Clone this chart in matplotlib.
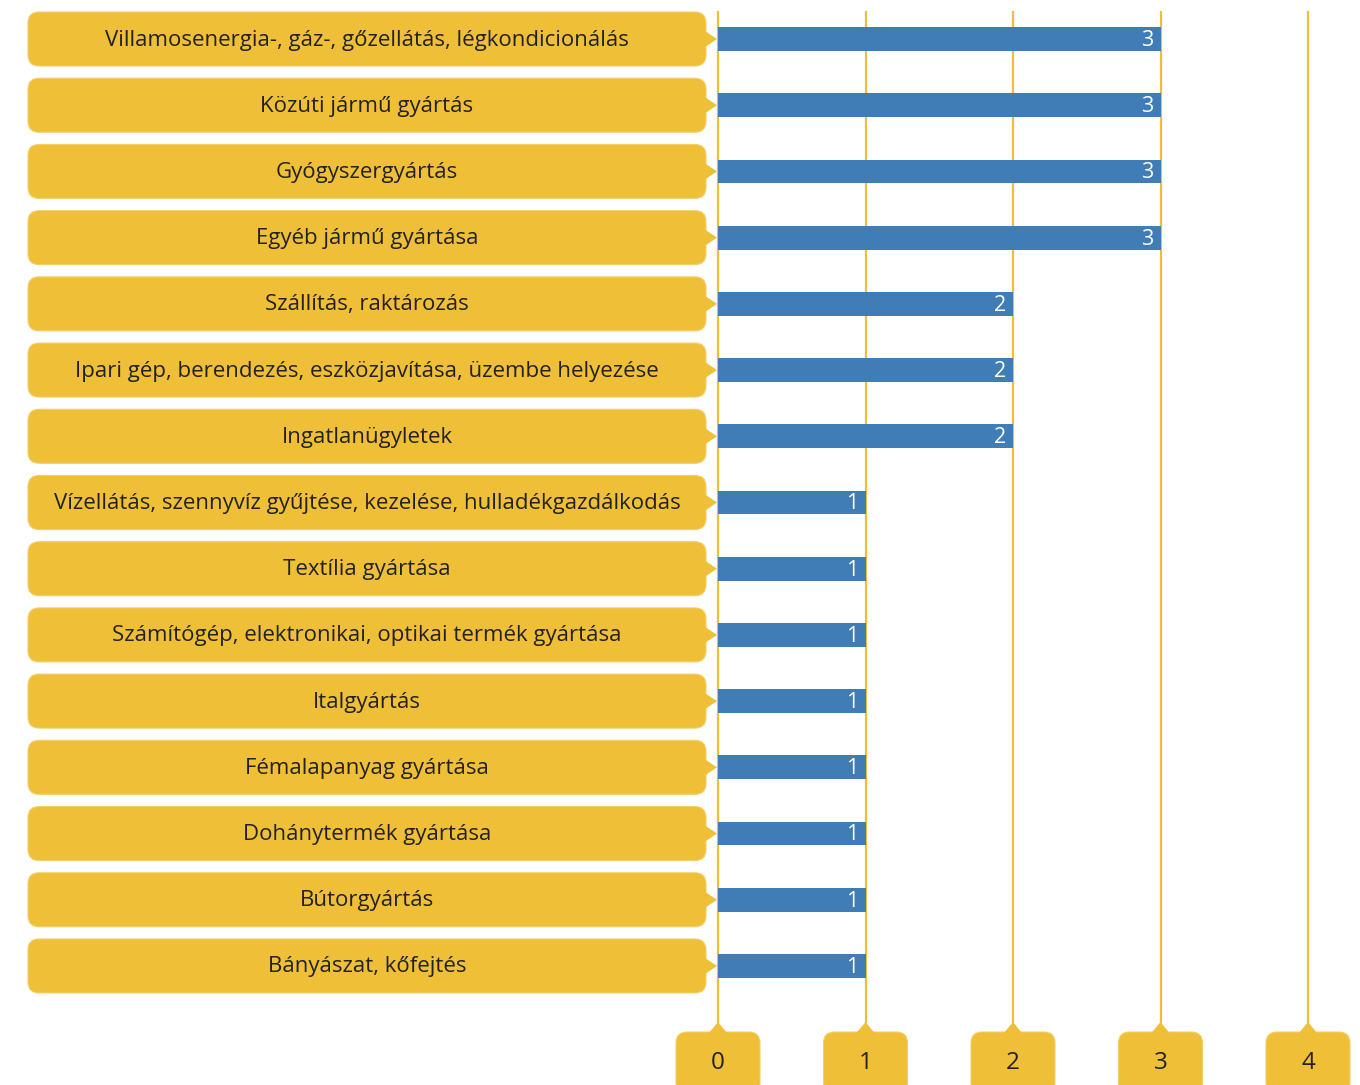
import matplotlib.pyplot as plt
from matplotlib.patches import FancyBboxPatch, Polygon

categories = [
    "Villamosenergia-, gáz-, gőzellátás, légkondicionálás",
    "Közúti jármű gyártás",
    "Gyógyszergyártás",
    "Egyéb jármű gyártása",
    "Szállítás, raktározás",
    "Ipari gép, berendezés, eszközjavítása, üzembe helyezése",
    "Ingatlanügyletek",
    "Vízellátás, szennyvíz gyűjtése, kezelése, hulladékgazdálkodás",
    "Textília gyártása",
    "Számítógép, elektronikai, optikai termék gyártása",
    "Italgyártás",
    "Fémalapanyag gyártása",
    "Dohánytermék gyártása",
    "Bútorgyártás",
    "Bányászat, kőfejtés",
]
values = [3, 3, 3, 3, 2, 2, 2, 1, 1, 1, 1, 1, 1, 1, 1]
ticks = [0, 1, 2, 3, 4]

YELLOW = "#EFBF38"
BLUE = "#407CB6"
TEXT = "#222222"

plt.rcParams["font.family"] = ["Open Sans", "DejaVu Sans"]

W, H = 1360, 1085
fig = plt.figure(figsize=(W / 100, H / 100), dpi=100)

# background layer in pixel units for the callout boxes
deco = fig.add_axes([0, 0, 1, 1], zorder=0)
deco.set_xlim(0, W)
deco.set_ylim(0, H)
deco.axis("off")

ax = fig.add_axes([718 / W, (H - 1022) / H, (1308 - 718) / W, (1022 - 12) / H], zorder=1)
ax.patch.set_visible(False)
n = len(categories)
ax.set_xlim(0, 4)
ax.set_ylim(n - 1 + 0.846, -0.408)
for s in ax.spines.values():
    s.set_visible(False)
ax.set_xticks([])
ax.set_yticks([])

for t in ticks:
    ax.axvline(t, color=YELLOW, lw=1.6, zorder=1, clip_on=False)

ax.barh(range(n), values, height=0.36, color=BLUE, zorder=3)
for i, v in enumerate(values):
    ax.annotate(str(v), (v, i), xytext=(-5, -1), textcoords="offset points",
                ha="right", va="center", color="white", fontsize=15.5, zorder=4)

# category callouts on the left
for i, name in enumerate(categories):
    yc = ax.transData.transform((0, i))[1]
    deco.add_patch(FancyBboxPatch((28, yc - 27), 678, 54,
                                  boxstyle="round,pad=0,rounding_size=11",
                                  fc=YELLOW, ec="#F3CF6A", lw=0.8))
    deco.add_patch(Polygon([(705, yc + 8), (717, yc), (705, yc - 8)],
                           closed=True, fc=YELLOW, ec="none"))
    deco.text(367, yc - 1, name, ha="center", va="center", fontsize=16, color=TEXT)

# tick callouts at the bottom
for t in ticks:
    px = ax.transData.transform((t, 0))[0]
    deco.add_patch(FancyBboxPatch((px - 42, -8), 84, 61,
                                  boxstyle="round,pad=0,rounding_size=11",
                                  fc=YELLOW, ec="#F3CF6A", lw=0.8))
    deco.add_patch(Polygon([(px - 9, 52), (px, 63), (px + 9, 52)],
                           closed=True, fc=YELLOW, ec="none"))
    deco.text(px, 22, str(t), ha="center", va="center", fontsize=17.5, color=TEXT)

fig.savefig("out.png", dpi=100)
